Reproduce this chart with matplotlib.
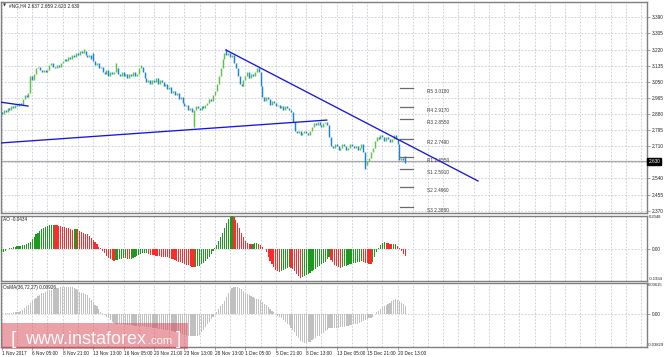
import matplotlib
matplotlib.use("Agg")
import matplotlib.pyplot as plt
import matplotlib.transforms as mtransforms
from matplotlib.patches import Rectangle

plt.rcParams['font.family'] = ['Liberation Sans', 'DejaVu Sans']

# ---------------- data ----------------
symbol_title = "#NG,H4 2.637 2.659 2.623 2.630"
first_open = 2.89
closes = [
    2.88, 2.90, 2.89, 2.91, 2.90, 2.92, 2.91, 2.93, 2.92, 2.94, 2.93, 2.96, 2.98, 2.97, 2.99, 3.08,
    3.06, 3.09, 3.12, 3.13, 3.11, 3.10, 3.11, 3.10, 3.11, 3.14, 3.15, 3.13, 3.12, 3.14, 3.13, 3.15,
    3.16, 3.17, 3.16, 3.18, 3.17, 3.19, 3.18, 3.20, 3.19, 3.21, 3.20, 3.21, 3.19, 3.18, 3.19, 3.17,
    3.16, 3.14, 3.15, 3.12, 3.13, 3.10, 3.09, 3.11, 3.08, 3.10, 3.09, 3.10, 3.12, 3.09, 3.08, 3.10,
    3.08, 3.09, 3.07, 3.09, 3.08, 3.10, 3.08, 3.09, 3.12, 3.13, 3.10, 3.07, 3.05, 3.06, 3.04, 3.06,
    3.05, 3.07, 3.04, 3.06, 3.05, 3.03, 3.04, 3.01, 3.02, 2.99, 3.00, 2.98, 2.99, 2.96, 2.97, 2.94,
    2.92, 2.93, 2.90, 2.91, 2.89, 2.90, 2.92, 2.91, 2.90, 2.92, 2.91, 2.93, 2.94, 2.96, 2.95, 2.98,
    3.00, 3.04, 3.08, 3.12, 3.17, 3.20, 3.19, 3.20, 3.18, 3.19, 3.15, 3.12, 3.08, 3.04, 3.03, 3.06,
    3.08, 3.10, 3.07, 3.09, 3.08, 3.10, 3.12, 3.10, 3.03, 2.97, 2.95, 2.97, 2.96, 2.93, 2.95, 2.94,
    2.92, 2.93, 2.91, 2.92, 2.90, 2.92, 2.91, 2.90, 2.89, 2.84, 2.79, 2.78, 2.79, 2.77, 2.78, 2.79,
    2.78, 2.77, 2.79, 2.81, 2.83, 2.82, 2.84, 2.82, 2.81, 2.83, 2.84, 2.82, 2.76, 2.71, 2.70, 2.72,
    2.71, 2.69, 2.70, 2.72, 2.71, 2.69, 2.70, 2.72, 2.71, 2.70, 2.71, 2.69, 2.70, 2.72, 2.68, 2.61,
    2.63, 2.65, 2.68, 2.70, 2.74, 2.76, 2.75, 2.77, 2.76, 2.74, 2.76, 2.75, 2.73, 2.75, 2.77, 2.75,
    2.72, 2.64, 2.65, 2.64, 2.630,
]
spike_highs = {43: 3.225, 48: 3.20, 60: 3.15, 73: 3.14, 118: 3.222, 134: 3.125, 212: 2.659}
spike_lows = {101: 2.812, 191: 2.592, 212: 2.623}

ao_values = [
    -0.020, -0.015, -0.008, 0.000, 0.005, 0.008, 0.012, 0.015, 0.018, 0.020, 0.022, 0.025, 0.028, 0.032, 0.036, 0.042,
    0.060, 0.075, 0.090, 0.100, 0.110, 0.120, 0.128, 0.136, 0.142, 0.146, 0.149, 0.150, 0.148, 0.146, 0.143, 0.140,
    0.137, 0.134, 0.130, 0.126, 0.122, 0.118, 0.120, 0.122, 0.121, 0.112, 0.105, 0.100, 0.095, 0.090, 0.080, 0.068,
    0.056, 0.044, 0.030, 0.015, 0.005, -0.010, -0.025, -0.040, -0.052, -0.062, -0.068, -0.070, -0.066, -0.063, -0.060, -0.058,
    -0.056, -0.054, -0.058, -0.061, -0.057, -0.052, -0.046, -0.040, -0.034, -0.028, -0.026, -0.024, -0.022, -0.030, -0.034, -0.036,
    -0.038, -0.040, -0.041, -0.043, -0.045, -0.047, -0.048, -0.050, -0.053, -0.057, -0.061, -0.065, -0.070, -0.075, -0.080, -0.086,
    -0.090, -0.095, -0.099, -0.103, -0.106, -0.110, -0.108, -0.104, -0.100, -0.093, -0.085, -0.074, -0.060, -0.045, -0.030, -0.012,
    0.005, 0.025, 0.050, 0.075, 0.100, 0.130, 0.160, 0.185, 0.198, 0.202, 0.195, 0.180, 0.160, 0.130, 0.100, 0.072,
    0.050, 0.038, 0.032, 0.030, 0.031, 0.036, 0.040, 0.034, 0.028, 0.015, 0.000, -0.020, -0.045, -0.070, -0.090, -0.110,
    -0.125, -0.135, -0.140, -0.132, -0.125, -0.118, -0.112, -0.108, -0.115, -0.122, -0.135, -0.150, -0.165, -0.178, -0.172, -0.165,
    -0.158, -0.150, -0.143, -0.135, -0.127, -0.118, -0.110, -0.100, -0.092, -0.084, -0.075, -0.062, -0.050, -0.065, -0.080, -0.095,
    -0.105, -0.110, -0.112, -0.108, -0.104, -0.100, -0.097, -0.093, -0.090, -0.086, -0.083, -0.079, -0.075, -0.074, -0.078, -0.082,
    -0.086, -0.090, -0.092, -0.075, -0.050, -0.020, 0.005, 0.025, 0.038, 0.042, 0.040, 0.036, 0.033, 0.030, 0.032, 0.034,
    0.022, 0.008, -0.012, -0.028, -0.0434,
]

osma_values = [
    0.000, 0.000, 0.001, 0.001, 0.001, 0.001, 0.002, 0.002, 0.003, 0.003, 0.004, 0.005, 0.007, 0.009, 0.011, 0.013,
    0.015, 0.017, 0.019, 0.021, 0.022, 0.024, 0.025, 0.026, 0.027, 0.028, 0.028, 0.029, 0.029, 0.030, 0.030, 0.031,
    0.031, 0.032, 0.032, 0.032, 0.031, 0.031, 0.030, 0.029, 0.028, 0.026, 0.025, 0.024, 0.023, 0.022, 0.019, 0.016,
    0.014, 0.011, 0.009, 0.006, 0.003, 0.001, -0.001, -0.003, -0.005, -0.007, -0.009, -0.010, -0.011, -0.011, -0.012, -0.012,
    -0.012, -0.013, -0.013, -0.013, -0.013, -0.013, -0.014, -0.014, -0.014, -0.014, -0.014, -0.014, -0.015, -0.015, -0.015, -0.016,
    -0.016, -0.016, -0.017, -0.017, -0.017, -0.018, -0.018, -0.019, -0.019, -0.020, -0.020, -0.021, -0.021, -0.022, -0.022, -0.023,
    -0.024, -0.024, -0.025, -0.025, -0.026, -0.026, -0.026, -0.025, -0.024, -0.021, -0.018, -0.015, -0.012, -0.009, -0.006, -0.003,
    0.000, 0.003, 0.006, 0.009, 0.012, 0.015, 0.020, 0.024, 0.027, 0.030, 0.032, 0.032, 0.031, 0.030, 0.029, 0.027,
    0.025, 0.023, 0.022, 0.021, 0.020, 0.019, 0.018, 0.017, 0.016, 0.014, 0.012, 0.010, 0.008, 0.006, 0.004, 0.002,
    0.000, -0.002, -0.003, -0.005, -0.007, -0.009, -0.011, -0.013, -0.016, -0.018, -0.021, -0.025, -0.028, -0.031, -0.033, -0.034,
    -0.034, -0.033, -0.032, -0.030, -0.029, -0.028, -0.026, -0.025, -0.023, -0.022, -0.020, -0.018, -0.016, -0.016, -0.016, -0.016,
    -0.016, -0.016, -0.015, -0.015, -0.015, -0.014, -0.014, -0.013, -0.013, -0.012, -0.012, -0.011, -0.010, -0.009, -0.008, -0.007,
    -0.006, -0.005, -0.004, -0.003, 0.000, 0.002, 0.004, 0.006, 0.008, 0.009, 0.011, 0.012, 0.013, 0.015, 0.016, 0.017,
    0.016, 0.015, 0.013, 0.012, 0.00926,
]

xtick_labels = ["1 Nov 2017", "6 Nov 05:00", "8 Nov 21:00", "13 Nov 13:00", "16 Nov 05:00",
                "20 Nov 21:00", "23 Nov 13:00", "28 Nov 13:00", "1 Dec 05:00", "5 Dec 21:00",
                "8 Dec 13:00", "13 Dec 05:00", "15 Dec 21:00", "20 Dec 13:00"]
bars_per_label = 16
bars_per_grid = 8

price_ticks = [3.390, 3.305, 3.220, 3.135, 3.050, 2.965, 2.880, 2.795, 2.710, 2.540, 2.455, 2.370]
price_grid = [3.390, 3.305, 3.220, 3.135, 3.050, 2.965, 2.880, 2.795, 2.710, 2.625, 2.540, 2.455, 2.370]
current_price = 2.630

pivot_names = ["R5", "R4", "R3", "R2", "R1", "S1", "S2", "S3"]
pivot_levels = [3.0180, 2.9170, 2.8550, 2.7490, 2.6550, 2.5910, 2.4960, 2.3880]

# trend lines: ((bar, price), (bar, price))
trend_lines = [
    ((-0.95, 2.727), (170.8, 2.848)),
    ((117.8, 3.2175), (250.3, 2.5266)),
    ((-0.95, 2.943), (13.8, 2.922)),
]

ao_label = "AO -0.0434"
osma_label = "OsMA(36,72,27) 0.00926"
ao_range = (-0.1934, 0.2048)
osma_range = (-0.03829, 0.03615)
price_range = (2.3579, 3.4707)
x_range = (-0.42, 339.1)
watermark = "www.instaforex"

# ---------------- figure ----------------
W, H = 665, 357
fig = plt.figure(figsize=(W / 100, H / 100), dpi=100)
fig.patch.set_facecolor("white")


def px_axes(top, bottom):
    return fig.add_axes([1 / W, 1 - bottom / H, 646 / W, (bottom - top) / H])


ax = px_axes(2, 213)
ax_ao = px_axes(215.5, 281)
ax_os = px_axes(283, 347)

GRID = "#c3cad6"
SPINE = "#7f7f7f"
TXT = "#202020"
FS = 3.4
FS_SMALL = 3.0

n = len(closes)
xs = list(range(n))

for a in (ax, ax_ao, ax_os):
    a.set_xlim(*x_range)
    for s in a.spines.values():
        s.set_color(SPINE)
        s.set_linewidth(1.0)
    a.set_facecolor("white")
    for g in range(0, int(x_range[1]) + 1, bars_per_grid):
        a.axvline(g, color=GRID, lw=0.6, ls=(0, (2, 2)), zorder=0)
    a.yaxis.tick_right()
    a.tick_params(axis="y", length=2.5, width=0.5, color=SPINE, labelsize=FS, pad=1, labelcolor=TXT)

# ---- main price panel ----
ax.set_ylim(*price_range)
for p in price_grid:
    ax.axhline(p, color=GRID, lw=0.6, ls=(0, (2, 2)), zorder=0)
ax.set_yticks(price_ticks)
ax.set_yticklabels(["%.3f" % p for p in price_ticks])
ax.set_xticks([])

opens = [first_open] + closes[:-1]
up_x, up_lo, up_hi, dn_x, dn_lo, dn_hi = [], [], [], [], [], []
for i, (o, c) in enumerate(zip(opens, closes)):
    hi = max(o, c)
    lo = min(o, c)
    if hi - lo < 0.004:
        hi += 0.002
        lo -= 0.002
    hi = max(hi, spike_highs.get(i, hi))
    lo = min(lo, spike_lows.get(i, lo))
    if c >= o:
        up_x.append(i); up_lo.append(lo); up_hi.append(hi)
    else:
        dn_x.append(i); dn_lo.append(lo); dn_hi.append(hi)
ax.vlines(up_x, up_lo, up_hi, colors="#5cc24a", lw=1.05, zorder=3)
ax.vlines(dn_x, dn_lo, dn_hi, colors="#1a84d0", lw=1.05, zorder=3)

ax.axhline(current_price, color="#a8a8a8", lw=0.9, zorder=2)
bt = mtransforms.blended_transform_factory(ax.transAxes, ax.transData)
ax.text(1.002, current_price, "%.3f" % current_price, transform=bt, fontsize=FS,
        color="white", va="center", ha="left",
        bbox=dict(boxstyle="square,pad=0.25", fc="black", ec="black"), zorder=6, clip_on=False)

for (b0, p0), (b1, p1) in trend_lines:
    ax.plot([b0, b1], [p0, p1], color="#1515e6", lw=0.95, zorder=4, clip_on=True)

for name, lvl in zip(pivot_names, pivot_levels):
    ax.plot([209.3, 216.1], [lvl, lvl], color="#6a6a6a", lw=0.9, zorder=3)
    ax.annotate("%s %.4f" % (name, lvl), xy=(223.5, lvl), xytext=(0, -0.8),
                textcoords="offset points", fontsize=FS, color="#3a3a3a",
                va="top", ha="left", zorder=5)

fig.text(3 / W, 1 - 5.5 / H, "\u25bc", fontsize=2.8, color="#333333", va="center", ha="left",
         family=["DejaVu Sans"])
fig.text(9 / W, 1 - 5.5 / H, symbol_title, fontsize=FS, color=TXT, va="center", ha="left")

# ---- AO panel ----
ax_ao.set_ylim(*ao_range)
ax_ao.axhline(0, color=GRID, lw=0.6, ls=(0, (2, 2)), zorder=0)
ao_colors = []
for i, v in enumerate(ao_values):
    prev = ao_values[i - 1] if i > 0 else v - 1
    ao_colors.append("#1e9a1e" if v > prev else "#ff2b2b")
ax_ao.bar(xs, ao_values, width=0.62, color=ao_colors, linewidth=0, zorder=3)
ax_ao.set_xticks([])
ax_ao.set_yticks([0])
ax_ao.set_yticklabels(["0.00"])
bt2 = mtransforms.blended_transform_factory(ax_ao.transAxes, ax_ao.transData)
ax_ao.text(1.003, ao_range[1], "%.4f" % ao_range[1], transform=bt2, fontsize=FS_SMALL, color=TXT,
           va="top", ha="left")
ax_ao.text(1.003, ao_range[0], "%.4f" % ao_range[0], transform=bt2, fontsize=FS_SMALL, color=TXT,
           va="bottom", ha="left")
fig.text(3 / W, 1 - 219 / H, ao_label, fontsize=FS, color=TXT, va="center", ha="left")

# ---- OsMA panel ----
ax_os.set_ylim(*osma_range)
ax_os.axhline(0, color=GRID, lw=0.6, ls=(0, (2, 2)), zorder=0)
ax_os.bar(xs, osma_values, width=0.62, color="#c0c0c0", linewidth=0, zorder=3)
ax_os.set_yticks([0])
ax_os.set_yticklabels(["0.00"])
bt3 = mtransforms.blended_transform_factory(ax_os.transAxes, ax_os.transData)
ax_os.text(1.002, osma_range[1], "%.5f" % osma_range[1], transform=bt3, fontsize=FS_SMALL, color=TXT,
           va="top", ha="left")
ax_os.text(1.002, osma_range[0], "%.5f" % osma_range[0], transform=bt3, fontsize=FS_SMALL, color=TXT,
           va="bottom", ha="left")
fig.text(3 / W, 1 - 287 / H, osma_label, fontsize=FS, color=TXT, va="center", ha="left")

tick_pos = [k * bars_per_label for k in range(len(xtick_labels))]
ax_os.set_xticks(tick_pos)
ax_os.set_xticklabels(xtick_labels, ha="left")
ax_os.tick_params(axis="x", length=2, width=0.5, color=SPINE, labelsize=FS, pad=1, labelcolor=TXT)

# ---- watermark ----
fig.patches.append(Rectangle((2 / W, 1 - 349 / H), 186 / W, 26 / H, transform=fig.transFigure,
                             facecolor="#d94452", alpha=0.5, edgecolor="none", zorder=10))
wm_base = 1 - 344 / H
fig.text(11 / W, wm_base, "[", fontsize=14, color="white", alpha=0.95, va="baseline", ha="left", zorder=11)
fig.text(25 / W, wm_base, watermark, fontsize=13, color="white", alpha=0.95, va="baseline", ha="left", zorder=11)
fig.text(148 / W, wm_base, ".com", fontsize=8, color="white", alpha=0.95, va="baseline", ha="left", zorder=11)
fig.text(176 / W, wm_base, "]", fontsize=14, color="white", alpha=0.95, va="baseline", ha="left", zorder=11)

fig.savefig("out.png", dpi=100)
